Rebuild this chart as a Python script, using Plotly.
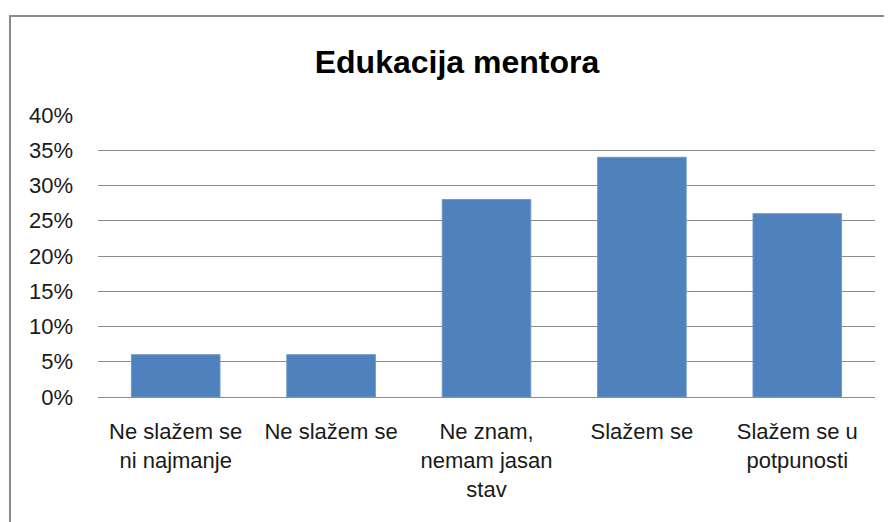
import plotly.graph_objects as go

categories = ["Ne slažem se<br>ni najmanje", "Ne slažem se", "Ne znam,<br>nemam jasan<br>stav",
              "Slažem se", "Slažem se u<br>potpunosti"]
values = [6, 6, 28, 34, 26]
y_ticks = [0, 5, 10, 15, 20, 25, 30, 35, 40]
y_tick_labels = [f"{v}%" for v in y_ticks]

OFF = 8  # page body margin offset
W, H = 892 - OFF, 522 - OFF
L, R, T, B = 98 - OFF, 17, 115 - OFF, 125
pw, ph = W - L - R, H - T - B

fig = go.Figure(go.Bar(
    x=categories, y=values,
    marker=dict(color="#4F81BD", line=dict(color="#6f97c9", width=1)),
    width=0.57,
    hoverinfo="skip",
))

font_family = "Liberation Sans, Arial, sans-serif"

fig.update_layout(
    width=W, height=H,
    margin=dict(l=L, r=R, t=T, b=B),
    paper_bgcolor="white", plot_bgcolor="white",
    showlegend=False,
    title=dict(text="<b>Edukacija mentora</b>", x=(457 - OFF) / W, xanchor="center",
               y=1 - (62 - OFF) / H, yanchor="middle", yref="container",
               font=dict(family=font_family, size=32, color="#000000")),
    font=dict(family=font_family, size=22, color="#1a1a1a"),
)
fig.update_yaxes(range=[0, 40], tickvals=y_ticks, ticktext=y_tick_labels,
                 showgrid=True, gridcolor="#8c8c8c", gridwidth=1,
                 zeroline=True, zerolinecolor="#8c8c8c", zerolinewidth=1,
                 showline=False, ticks="", ticklabelstandoff=24, fixedrange=True)
fig.update_xaxes(showgrid=False, showline=True, linecolor="#8c8c8c", linewidth=1,
                 ticks="", ticklabelstandoff=15, fixedrange=True)

# outer chart border (cut at right and bottom edges in reference)
x0 = (10 - OFF - L) / pw
x1 = (W + 10 - L) / pw
y1 = (H - B - (16 - OFF)) / ph
y0 = (H - B - (H + 10)) / ph
fig.add_shape(type="rect", xref="paper", yref="paper", x0=x0, x1=x1, y0=y0, y1=y1,
              line=dict(color="#8a8a8a", width=2), layer="below")

fig.write_html("out.html")
